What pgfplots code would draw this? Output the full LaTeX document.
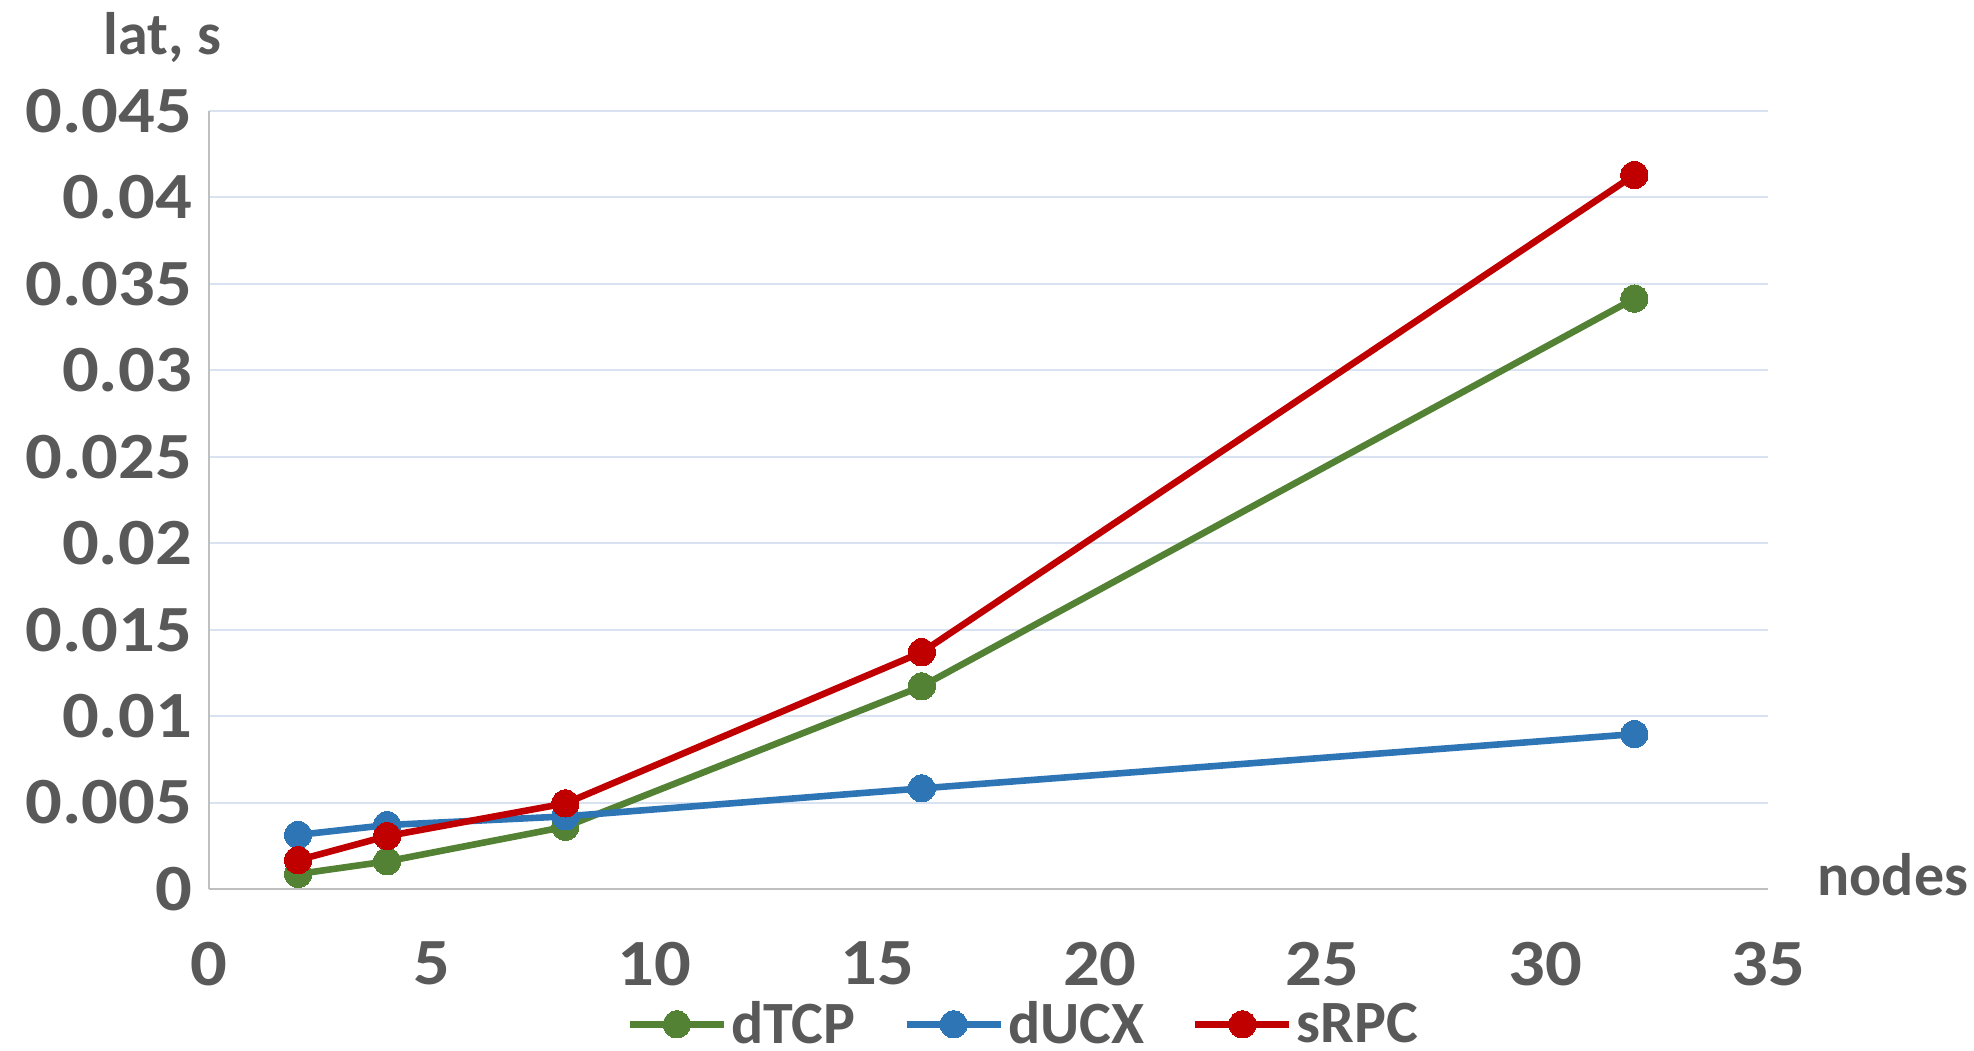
\documentclass[border=0pt]{standalone}
\usepackage{fontspec}
\setmainfont{Carlito}
\newfontfamily\tickfont{Carlito}[FakeStretch=1.1]
\usepackage{pgfplots}
\pgfplotsset{compat=1.18}
\definecolor{cG}{HTML}{548235}
\definecolor{cB}{HTML}{2E75B6}
\definecolor{cR}{HTML}{C00000}
\definecolor{txt}{HTML}{595959}
\definecolor{gridc}{HTML}{D9E2F1}
\definecolor{axc}{HTML}{BFBFBF}
\newcommand{\bigf}{\fontsize{30}{36}\selectfont\bfseries}
\newcommand{\tickf}{\tickfont\fontsize{33}{40}\selectfont\bfseries}
\begin{document}
\begin{tikzpicture}
\useasboundingbox (0,0) rectangle (987pt,525pt);
\begin{axis}[
  at={(104.5pt,80.5pt)}, anchor=south west,
  scale only axis, width=779.5pt, height=389pt,
  xmin=0, xmax=35, ymin=0, ymax=0.045,
  xtick={0,5,10,15,20,25,30,35},
  ytick={0,0.005,0.01,0.015,0.02,0.025,0.03,0.035,0.04,0.045},
  yticklabels={0,0.005,0.01,0.015,0.02,0.025,0.03,0.035,0.04,0.045},
  xticklabels={0,5,10,15,20,25,30,35},
  scaled y ticks=false, scaled x ticks=false,
  major tick length=0pt,
  axis lines*=left,
  axis line style={draw=axc, line width=1.3pt, -},
  ymajorgrids,
  grid style={draw=gridc, line width=1pt},
  tick label style={font=\tickf, text=txt},
  x tick label style={yshift=-23pt},
  y tick label style={xshift=-5pt},
  ylabel={lat, s},
  ylabel style={font=\bigf, text=txt, rotate=-90, anchor=center, at={(axis description cs:-0.030,1.095)}},
  xlabel={nodes},
  xlabel style={font=\bigf, text=txt, anchor=center, at={(axis description cs:1.080,0.018)}},
  legend columns=3,
  legend style={draw=none, fill=none, font=\bigf, text=txt, at={(axis description cs:0.523,-0.174)}, anchor=center,
    /tikz/every even column/.append style={column sep=22pt}},
  legend image code/.code={\draw[mark repeat=2,mark phase=2,#1] plot coordinates {(0pt,0pt) (23.5pt,0pt) (47pt,0pt)};},
  clip=false,
]
\addplot[color=cG, line width=3.3pt, mark=*, mark size=6.8pt, mark options={fill=cG, draw=cG, line width=0pt}] coordinates {(2,0.00087) (4,0.0016) (8,0.0036) (16,0.01172) (32,0.03415)};
\addlegendentry{dTCP}
\addplot[color=cB, line width=3.3pt, mark=*, mark size=6.8pt, mark options={fill=cB, draw=cB, line width=0pt}] coordinates {(2,0.00313) (4,0.0037) (8,0.0042) (16,0.00582) (32,0.00896)};
\addlegendentry{dUCX}
\addplot[color=cR, line width=3.3pt, mark=*, mark size=6.8pt, mark options={fill=cR, draw=cR, line width=0pt}] coordinates {(2,0.00167) (4,0.00306) (8,0.00495) (16,0.01369) (32,0.0413)};
\addlegendentry{sRPC}
\end{axis}
\end{tikzpicture}
\end{document}
